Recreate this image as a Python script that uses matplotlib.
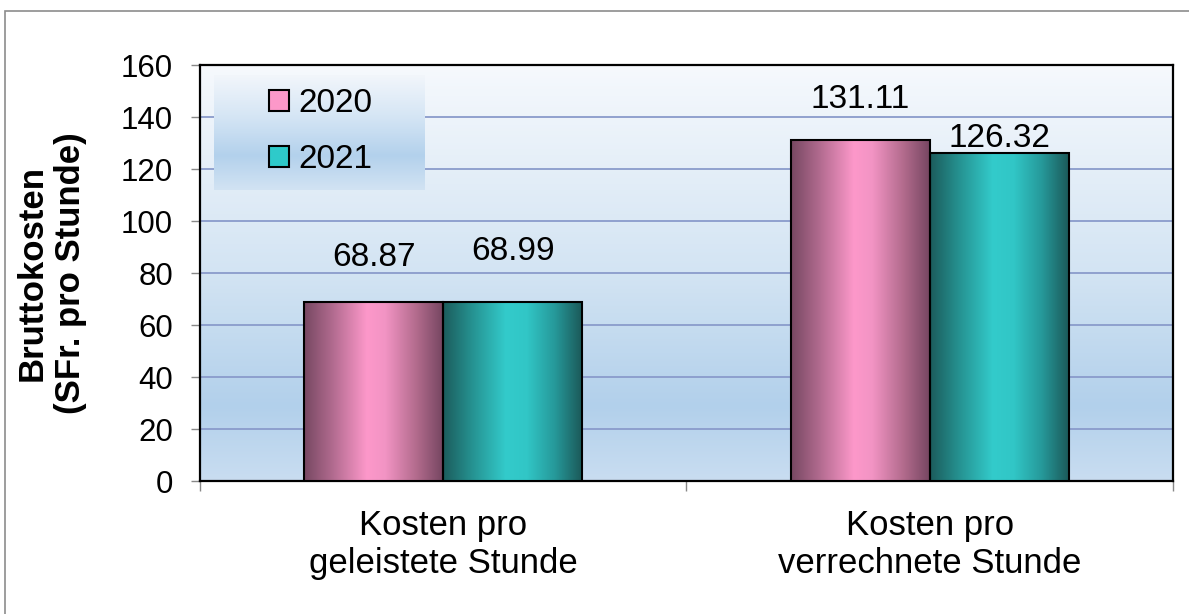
import numpy as np
import matplotlib
matplotlib.use('Agg')
import matplotlib.pyplot as plt
from matplotlib.colors import LinearSegmentedColormap
from matplotlib.patches import Rectangle, Patch

# --- DATA ---
categories = ['Kosten pro\ngeleistete Stunde', 'Kosten pro\nverrechnete Stunde']
years = ['2020', '2021']
values_2020 = [68.87, 131.11]
values_2021 = [68.99, 126.32]
y_ticks = [0, 20, 40, 60, 80, 100, 120, 140, 160]
y_label = 'Bruttokosten\n(SFr. pro Stunde)'

# --- STYLE ---
plt.rcParams['font.family'] = ['Liberation Sans', 'DejaVu Sans']

pink_cmap = LinearSegmentedColormap.from_list(
    'pink', [(0, '#774862'), (0.2, '#b06a8e'), (0.45, '#fd98ca'),
             (0.58, '#f294c4'), (0.8, '#b46c8e'), (1, '#744560')])
teal_cmap = LinearSegmentedColormap.from_list(
    'teal', [(0, '#1c5c5c'), (0.2, '#25908f'), (0.45, '#33cbcb'),
             (0.6, '#31c6c6'), (0.8, '#26999a'), (1, '#1b5757')])
bg_cmap = LinearSegmentedColormap.from_list(
    'bg', [(0, '#c9ddf1'), (0.18, '#b2d0eb'), (0.5, '#d3e4f3'), (1, '#f6f9fd')])
leg_cmap = LinearSegmentedColormap.from_list(
    'leg', [(0, '#d2e3f3'), (0.3, '#b3d1ec'), (0.65, '#d6e6f5'), (1, '#f2f6fb')])

# offsets of value labels above bar tops (points)
label_offsets = {'2020': [26, 23], '2021': [30, 4]}

fig = plt.figure(figsize=(11.89, 6.14), dpi=100)
ax = fig.add_axes([0.1682, 0.2166, 0.8183, 0.6775])

# plot area background gradient
grad = np.linspace(0, 1, 256).reshape(-1, 1)
ax.imshow(grad, extent=[0, 1, 0, 1], transform=ax.transAxes, origin='lower',
          aspect='auto', cmap=bg_cmap, zorder=0)

x = np.arange(len(categories))
width = 0.286
hgrad = np.linspace(0, 1, 256).reshape(1, -1)

series = [(years[0], values_2020, pink_cmap, -width / 2),
          (years[1], values_2021, teal_cmap, width / 2)]
for year, vals, cmap, shift in series:
    bars = ax.bar(x + shift, vals, width, facecolor='none', edgecolor='black',
                  linewidth=1.5, zorder=4)
    for patch in bars:
        im = ax.imshow(hgrad, cmap=cmap, aspect='auto', zorder=3,
                       extent=[patch.get_x(), patch.get_x() + patch.get_width(),
                               0, patch.get_height()])
        im.set_clip_path(patch)
    for i, v in enumerate(vals):
        ax.annotate(f'{v:.2f}', (x[i] + shift, v), xytext=(0, label_offsets[year][i]),
                    textcoords='offset points', ha='center', va='baseline',
                    fontsize=24, zorder=5)

ax.set_xlim(-0.5, 1.5)
ax.set_ylim(0, 160)

# grid
ax.set_axisbelow(True)
ax.yaxis.grid(True, color='#8a9bcb', linewidth=1.3)
ax.set_yticks(y_ticks)
ax.tick_params(axis='y', direction='out', length=6.5, width=1, color='#888888',
               labelsize=22.5, pad=13)
ax.set_xticks(x, categories)
ax.tick_params(axis='x', which='major', length=0, labelsize=25, pad=20)
ax.set_xticks([-0.5, 0.5, 1.5], minor=True)
ax.tick_params(axis='x', which='minor', direction='out', length=7, width=1,
               color='#888888')
for sp in ax.spines.values():
    sp.set_color('black')
    sp.set_linewidth(1.6)

ax.set_ylabel(y_label, fontsize=25, fontweight='bold', labelpad=24)

# legend with gradient box
ax.imshow(grad, extent=[0.0144, 0.231, 0.70, 0.976], transform=ax.transAxes,
          origin='lower', aspect='auto', cmap=leg_cmap, zorder=1)
handles = [Patch(facecolor='#fc98c9', edgecolor='black', linewidth=1.5),
           Patch(facecolor='#2ecaca', edgecolor='black', linewidth=1.5)]
ax.legend(handles, years, loc='center', bbox_to_anchor=(0.124, 0.839),
          frameon=False, fontsize=24, handlelength=0.6, handleheight=0.6,
          handletextpad=0.3, labelspacing=0.75)
ax.set_xlim(-0.5, 1.5)
ax.set_ylim(0, 160)

# outer chart border
fig.add_artist(Rectangle((5 / 1189, -0.05), 1.2, (614 - 11) / 614 + 0.05,
                         transform=fig.transFigure, fill=False,
                         edgecolor='#8c8c8c', linewidth=1.2))

fig.savefig('out.png', dpi=100)
